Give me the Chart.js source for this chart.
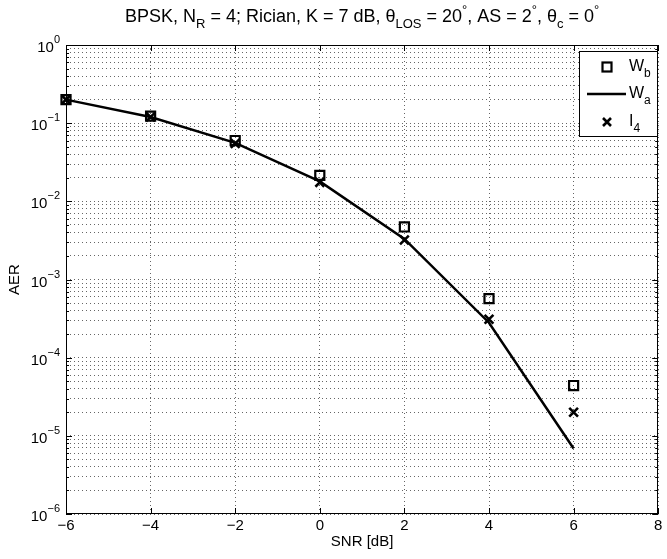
<!DOCTYPE html>
<html><head><meta charset="utf-8">
<script src="https://cdn.jsdelivr.net/npm/chart.js@4.4.0/dist/chart.umd.min.js"></script>
<style>html,body{margin:0;padding:0;background:#fff;} canvas{display:block;}</style>
</head><body>
<canvas id="c" width="667" height="559"></canvas>
<script>
// ---- data ----
const snr = [-6, -4, -2, 0, 2, 4, 6];
const wb  = [0.20, 0.123, 0.060, 0.0215, 4.7e-3, 5.7e-4, 4.4e-5];
const wa  = [0.20, 0.120, 0.056, 0.0180, 3.3e-3, 2.8e-4, 6.9e-6];
const i4  = [0.20, 0.120, 0.055, 0.0175, 3.2e-3, 3.1e-4, 2.0e-5];
const xTicks = [-6, -4, -2, 0, 2, 4, 6, 8];
const yExps = [0, -1, -2, -3, -4, -5, -6];
const xLabel = 'SNR [dB]';
const yLabel = 'AER';
const titleParts = [
  ['BPSK, N', 'n'], ['R', 'sub'], [' = 4; Rician, K = 7 dB, \u03B8', 'n'], ['LOS', 'sub'],
  [' = 20', 'n'], ['\u00B0', 'sup'], [', AS = 2', 'n'], ['\u00B0', 'sup'],
  [', \u03B8', 'n'], ['c', 'sub'], [' = 0', 'n'], ['\u00B0', 'sup']
];
const legendItems = [['W', 'b', 'rect'], ['W', 'a', 'line'], ['I', '4', 'cross']];

const FONT = '"Liberation Sans", Arial, Helvetica, sans-serif';

// minor tick values for log axis
const yTickVals = [];
yExps.slice().sort((a,b)=>a-b).forEach(k => {
  if (k === 0) { yTickVals.push(1); return; }
  for (let m = 1; m <= 9; m++) yTickVals.push(m * Math.pow(10, k));
});

function drawRich(ctx, parts, x, y, align, fs, fss, subDy, supDy) {
  let w = 0;
  parts.forEach(([t, s]) => { ctx.font = (s === 'n' ? fs : fss) + 'px ' + FONT; w += ctx.measureText(t).width; });
  let cx = align === 'center' ? x - w / 2 : (align === 'right' ? x - w : x);
  ctx.textAlign = 'left';
  ctx.textBaseline = 'alphabetic';
  parts.forEach(([t, s]) => {
    ctx.font = (s === 'n' ? fs : fss) + 'px ' + FONT;
    const dy = s === 'sub' ? subDy : (s === 'sup' ? supDy : 0);
    ctx.fillText(t, cx, y + dy);
    cx += ctx.measureText(t).width;
  });
}

function drawMarker(ctx, type, x, y) {
  ctx.save();
  ctx.strokeStyle = '#000';
  if (type === 'rect') {
    ctx.lineWidth = 2.2;
    ctx.strokeRect(x - 4.5, y - 4.5, 9, 9);
  } else if (type === 'cross') {
    ctx.lineWidth = 2.6;
    ctx.beginPath();
    ctx.moveTo(x - 4, y - 4); ctx.lineTo(x + 4, y + 4);
    ctx.moveTo(x + 4, y - 4); ctx.lineTo(x - 4, y + 4);
    ctx.stroke();
  }
  ctx.restore();
}

const decor = {
  id: 'decor',
  afterDraw(chart) {
    const ctx = chart.ctx, a = chart.chartArea;
    const xs = chart.scales.x, ys = chart.scales.y;
    ctx.save();
    ctx.fillStyle = '#000';
    ctx.strokeStyle = '#000';
    ctx.lineWidth = 1;
    // box
    ctx.strokeRect(Math.round(a.left) + 0.5, Math.round(a.top) + 0.5,
                   Math.round(a.right - a.left) - 1, Math.round(a.bottom - a.top) - 1);
    // inward ticks
    ctx.beginPath();
    xTicks.forEach(v => {
      const px = Math.round(xs.getPixelForValue(v)) + 0.5;
      ctx.moveTo(px, a.bottom); ctx.lineTo(px, a.bottom - 6);
      ctx.moveTo(px, a.top); ctx.lineTo(px, a.top + 6);
    });
    yTickVals.forEach(v => {
      const py = Math.round(ys.getPixelForValue(v)) + 0.5;
      const major = Math.abs(Math.log10(v) - Math.round(Math.log10(v))) < 1e-9;
      const L = major ? 6 : 3;
      ctx.moveTo(a.left, py); ctx.lineTo(a.left + L, py);
      ctx.moveTo(a.right, py); ctx.lineTo(a.right - L, py);
    });
    ctx.stroke();
    // x tick labels
    ctx.font = '15px ' + FONT;
    ctx.textAlign = 'center';
    ctx.textBaseline = 'top';
    xTicks.forEach(v => {
      const lbl = v < 0 ? '\u2212' + Math.abs(v) : String(v);
      ctx.fillText(lbl, xs.getPixelForValue(v), a.bottom + 4);
    });
    // y tick labels 10^k
    yExps.forEach(k => {
      const py = ys.getPixelForValue(Math.pow(10, k));
      const ex = k < 0 ? '\u2212' + Math.abs(k) : String(k);
      drawRich(ctx, [['10', 'n'], [ex, 'sup']], a.left - 6, py + 7, 'right', 15, 11, 5, -9);
    });
    // axis titles
    ctx.font = '15px ' + FONT;
    ctx.textAlign = 'center';
    ctx.textBaseline = 'top';
    ctx.fillText(xLabel, (a.left + a.right) / 2, a.bottom + 20);
    ctx.save();
    ctx.translate(15, (a.top + a.bottom) / 2);
    ctx.rotate(-Math.PI / 2);
    ctx.textBaseline = 'middle';
    ctx.fillText(yLabel, 0, 0);
    ctx.restore();
    // title
    drawRich(ctx, titleParts, (a.left + a.right) / 2, 22, 'center', 18, 13, 6, -8);
    // legend
    const lx = 579, ly = 51, lw = 78, lh = 85;
    ctx.fillStyle = '#fff';
    ctx.fillRect(lx, ly, lw, lh);
    ctx.strokeStyle = '#000';
    ctx.lineWidth = 1;
    ctx.strokeRect(lx + 0.5, ly + 0.5, lw, lh);
    ctx.fillStyle = '#000';
    const rows = [67, 94, 122];
    legendItems.forEach(([base, sub, type], i) => {
      const y = rows[i];
      if (type === 'line') {
        ctx.save();
        ctx.lineWidth = 2.5;
        ctx.beginPath(); ctx.moveTo(587, y); ctx.lineTo(626, y); ctx.stroke();
        ctx.restore();
      } else {
        drawMarker(ctx, type, 607, y);
      }
      drawRich(ctx, [[base, 'n'], [sub, 'sub']], 629, y + 4, 'left', 16, 12, 6, -8);
    });
    ctx.restore();
  }
};

const gridCol = 'rgba(0,0,0,0.6)';
new Chart(document.getElementById('c'), {
  type: 'line',
  data: {
    datasets: [
      { label: 'I4', data: snr.map((x, i) => ({x, y: i4[i]})), showLine: false,
        pointStyle: 'crossRot', pointRadius: 6.2, pointBorderWidth: 2.6, borderColor: '#000',
        backgroundColor: 'transparent', clip: false, order: 1 },
      { label: 'Wb', data: snr.map((x, i) => ({x, y: wb[i]})), showLine: false,
        pointStyle: 'rect', pointRadius: 6.4, pointBorderWidth: 2.2, borderColor: '#000',
        backgroundColor: 'transparent', clip: false, order: 2 },
      { label: 'Wa', data: snr.map((x, i) => ({x, y: wa[i]})), showLine: true,
        borderColor: '#000', borderWidth: 2.5, pointRadius: 0, tension: 0, clip: false, order: 3 }
    ]
  },
  options: {
    responsive: false,
    animation: false,
    layout: { padding: { left: 66, top: 45, right: 4, bottom: 45 } },
    plugins: { legend: { display: false }, title: { display: false }, tooltip: { enabled: false } },
    scales: {
      x: {
        type: 'linear', min: -6, max: 8,
        afterBuildTicks(s) { s.ticks = xTicks.map(v => ({value: v})); },
        ticks: { display: false },
        grid: { color: gridCol, lineWidth: 1, drawTicks: false },
        border: { display: false, dash: [1, 3] },
        afterFit(s) { s.height = 0; }
      },
      y: {
        type: 'logarithmic', min: 1e-6, max: 1,
        afterBuildTicks(s) { s.ticks = yTickVals.map(v => ({value: v})); },
        ticks: { display: false },
        grid: { color: gridCol, lineWidth: 1, drawTicks: false },
        border: { display: false, dash: [1, 3] },
        afterFit(s) { s.width = 0; }
      }
    }
  },
  plugins: [decor]
});
</script>
</body></html>
